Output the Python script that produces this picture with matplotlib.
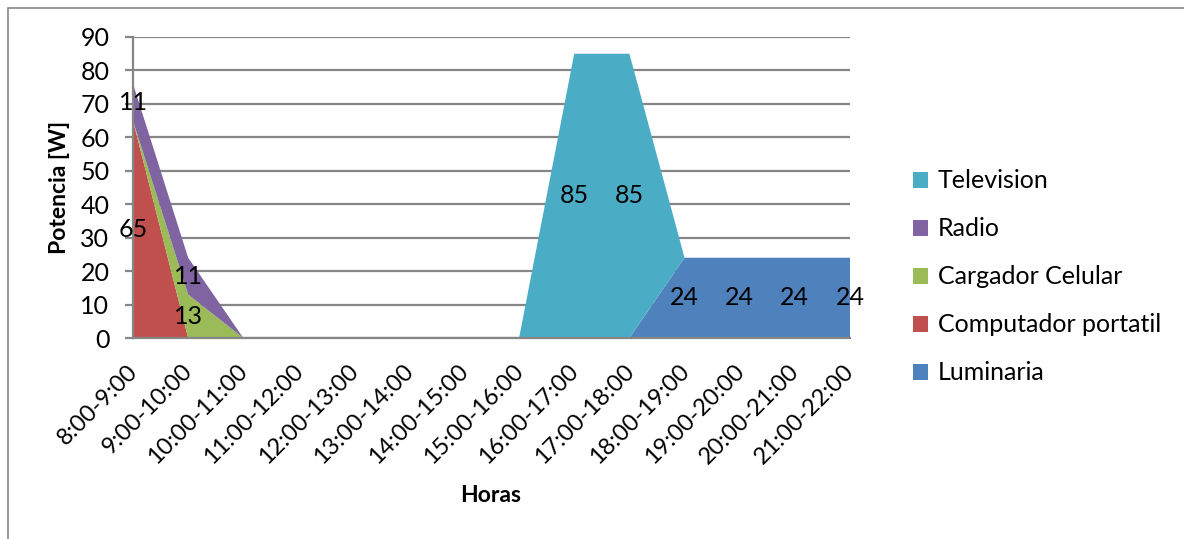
import matplotlib
matplotlib.use("Agg")
import matplotlib.pyplot as plt
from matplotlib.patches import Rectangle, Patch
from matplotlib.transforms import offset_copy
import numpy as np

plt.rcParams['font.family'] = ['Lato', 'DejaVu Sans']

hours = ["8:00-9:00", "9:00-10:00", "10:00-11:00", "11:00-12:00", "12:00-13:00",
         "13:00-14:00", "14:00-15:00", "15:00-16:00", "16:00-17:00", "17:00-18:00",
         "18:00-19:00", "19:00-20:00", "20:00-21:00", "21:00-22:00"]

luminaria = [0, 0, 0, 0, 0, 0, 0, 0, 0, 0, 24, 24, 24, 24]
computador = [65, 0, 0, 0, 0, 0, 0, 0, 0, 0, 0, 0, 0, 0]
cargador = [0, 13, 0, 0, 0, 0, 0, 0, 0, 0, 0, 0, 0, 0]
radio = [11, 11, 0, 0, 0, 0, 0, 0, 0, 0, 0, 0, 0, 0]
television = [0, 0, 0, 0, 0, 0, 0, 0, 85, 85, 0, 0, 0, 0]

series_names = ["Luminaria", "Computador portatil", "Cargador Celular", "Radio", "Television"]
series_values = [luminaria, computador, cargador, radio, television]
colors = ["#4F81BD", "#C0504D", "#9BBB59", "#8064A2", "#4BACC6"]

FS = 18

W, H = 1184, 539
fig = plt.figure(figsize=(W / 100, H / 100), dpi=100)
ax = fig.add_axes([133 / W, 1 - 338 / H, (850 - 133) / W, (338 - 37) / H])

x = np.arange(len(hours))
stack = np.vstack(series_values).astype(float)
ax.stackplot(x, stack, colors=colors, linewidth=0)

# data labels in the middle of each non-zero band
cum = np.cumsum(stack, axis=0)
for i in range(stack.shape[0]):
    base = cum[i] - stack[i]
    for j, v in enumerate(stack[i]):
        if v > 0:
            ax.text(x[j], base[j] + v / 2, f"{int(v)}", ha="center", va="center",
                    fontsize=FS, color="black", clip_on=False, zorder=5)

ax.set_xlim(0, len(hours) - 1)
ax.set_ylim(0, 90)
ax.set_yticks(np.arange(0, 91, 10))
ax.yaxis.grid(True, color="#868686", linewidth=1.6)
ax.set_axisbelow(True)
for side in ["top", "right"]:
    ax.spines[side].set_visible(False)
for side in ["left", "bottom"]:
    ax.spines[side].set_color("#868686")
    ax.spines[side].set_linewidth(1.6)
ax.tick_params(axis="y", length=6, width=1.6, color="#868686", labelsize=FS, pad=11)
ax.tick_params(axis="x", length=0)
ax.set_xticks(x)
ax.set_xticklabels([])

# slanted category labels, each ending just under its category position
label_tf = offset_copy(ax.get_xaxis_transform(), fig=fig, x=1, y=-30, units="dots")
for xi, name in zip(x, hours):
    ax.text(xi, 0, name, transform=label_tf, rotation=45, rotation_mode="anchor",
            ha="right", va="center", fontsize=17, clip_on=False)

ax.set_ylabel("Potencia [W]", fontsize=16.5, fontweight="bold", va="center", ha="center")
ax.yaxis.set_label_coords(-0.103, 0.5)
ax.set_xlabel("Horas", fontsize=16.5, fontweight="bold", va="center", ha="center")
ax.xaxis.set_label_coords(0.499, -0.5216)

handles = [Patch(facecolor=c, edgecolor="none") for c in colors][::-1]
labels = series_names[::-1]
fig.legend(handles, labels, loc="center left", bbox_to_anchor=(890 / W, 1 - 277 / H),
           frameon=False, fontsize=FS, handlelength=0.6, handleheight=0.6,
           handletextpad=0.4, labelspacing=1.0)

# chart area border
fig.patches.append(Rectangle((8 / W, -0.1), 1.2, 1 - 8 / H + 0.1, transform=fig.transFigure,
                             fill=False, edgecolor="#878787", linewidth=1.2))

fig.savefig("out.png", dpi=100)
